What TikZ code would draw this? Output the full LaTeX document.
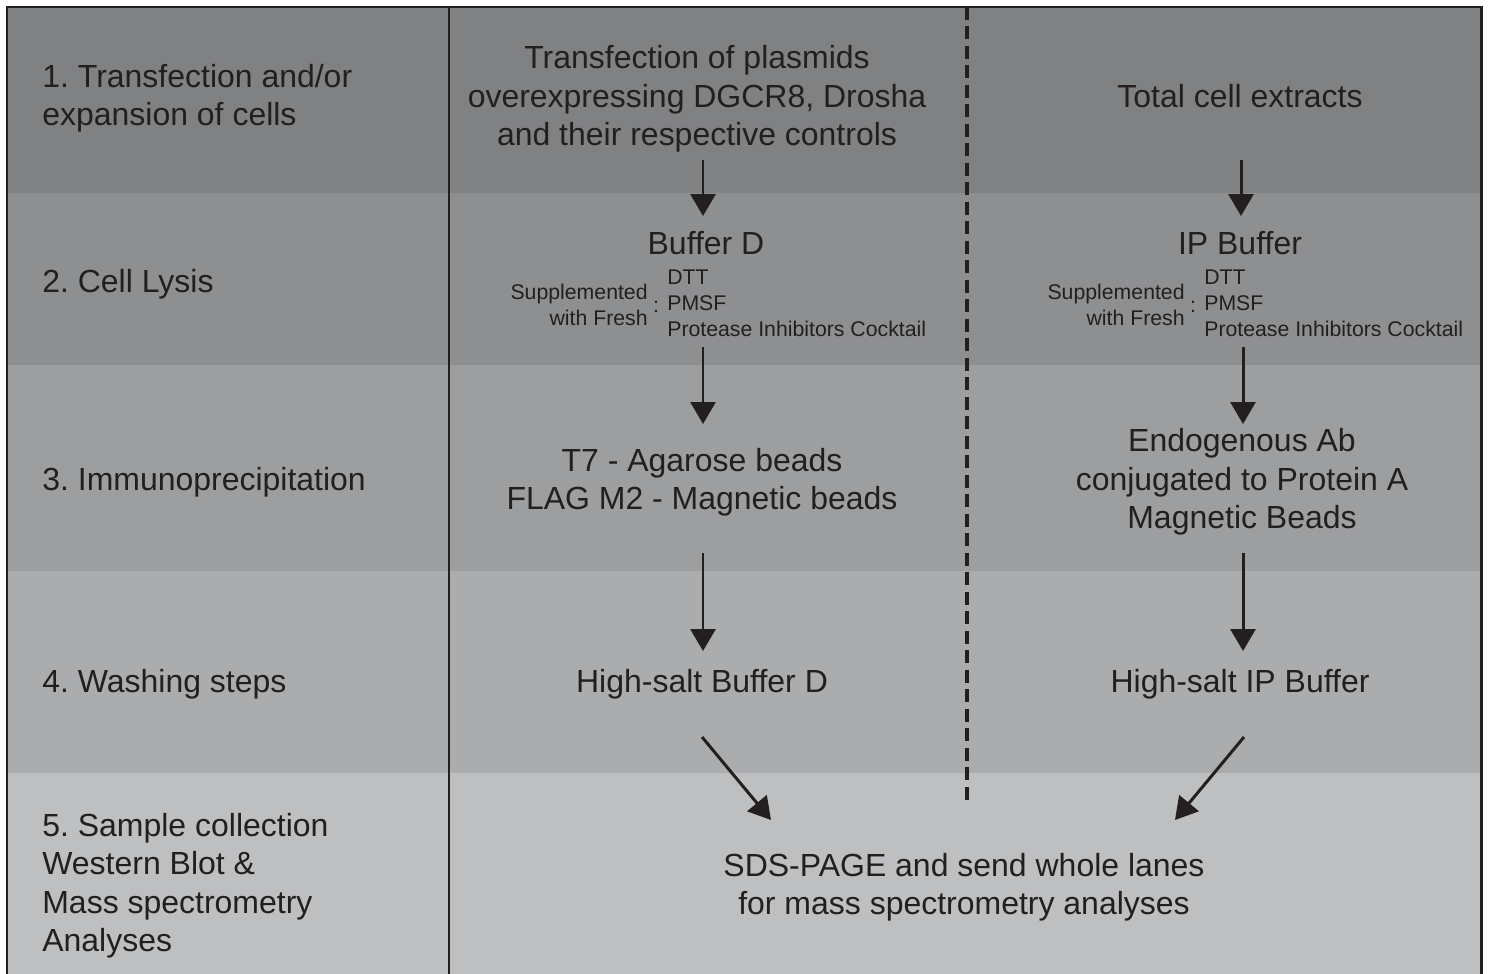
\documentclass[tikz,border=0pt]{standalone}
\usepackage{fontspec}
\setmainfont{Liberation Sans}
\frenchspacing
\usetikzlibrary{arrows.meta}

\definecolor{ink}{RGB}{35,31,32}
\definecolor{rowA}{RGB}{128,129,131}
\definecolor{rowB}{RGB}{142,143,145}
\definecolor{rowC}{RGB}{157,158,160}
\definecolor{rowD}{RGB}{171,172,174}
\definecolor{rowE}{RGB}{190,191,193}

\tikzset{
  big/.style   = {inner sep=0pt, text=ink, font=\fontsize{18.2}{21.9}\selectfont},
  small/.style = {inner sep=0pt, text=ink, font=\fontsize{12.1}{14.8}\selectfont},
  flow/.style  = {draw=ink, line width=1.7pt, -{Triangle[length=0.44cm, width=0.5cm]}},
}

\begin{document}
\begin{tikzpicture}[x=0.02cm, y=-0.02cm]
        \useasboundingbox (0,0) rectangle (1492,974);
        % row bands
        \fill[rowA] (7,7)   rectangle (1481,193);
        \fill[rowB] (7,193) rectangle (1481,365);
        \fill[rowC] (7,365) rectangle (1481,571);
        \fill[rowD] (7,571) rectangle (1481,773);
        \fill[rowE] (7,773) rectangle (1481,974);
        % frame
        \draw[ink, line width=1.7pt] (7,974) -- (7,7) -- (1481,7) -- (1481,974);
        \draw[ink, line width=1.7pt] (449,7) -- (449,974);
        \draw[ink, line width=2.8pt, dash pattern=on 0.26cm off 0.13cm] (967,7) -- (967,806);

        % step labels
        \node (step1) [big, anchor=west, align=left] at (42,98)    {1. Transfection and/or\\expansion of cells};
        \node (step2) [big, anchor=west]             at (42,284)   {2. Cell Lysis};
        \node (step3) [big, anchor=west]             at (42,482)   {3. Immunoprecipitation};
        \node (step4) [big, anchor=west]             at (42,684)   {4. Washing steps};
        \node (step5) [big, anchor=west, align=left] at (42,885.5) {5. Sample collection\\Western Blot \&\\Mass spectrometry\\Analyses};

        % overexpression column
        \node (transf) [big, align=center] at (697,99)  {Transfection of plasmids\\overexpressing DGCR8, Drosha\\and their respective controls};
        \node (bufD)   [big]               at (706,243) {Buffer D};
        \node (supD)   [small, anchor=east, align=right] at (648,305) {Supplemented\\with Fresh};
        \node (colD)   [small]             at (656,307) {:};
        \node (listD)  [small, anchor=west, align=left]  at (667,303) {DTT\\PMSF\\Protease Inhibitors Cocktail};
        \node (beadsD) [big, align=center] at (702,482) {T7 - Agarose beads\\FLAG M2 - Magnetic beads};
        \node (washD)  [big]               at (702,684) {High-salt Buffer D};

        % endogenous column
        \node (total)   [big]               at (1240,96)  {Total cell extracts};
        \node (ipbuf)   [big]               at (1240,243) {IP Buffer};
        \node (supIP)   [small, anchor=east, align=right] at (1185,305) {Supplemented\\with Fresh};
        \node (colIP)   [small]             at (1193,307) {:};
        \node (listIP)  [small, anchor=west, align=left]  at (1204,303) {DTT\\PMSF\\Protease Inhibitors Cocktail};
        \node (beadsIP) [big, align=center] at (1242,482) {Endogenous Ab\\conjugated to Protein A\\Magnetic Beads};
        \node (washIP)  [big]               at (1240,684) {High-salt IP Buffer};

        % common end
        \node (sds) [big, align=center] at (964,887) {SDS-PAGE and send whole lanes\\for mass spectrometry analyses};

        % arrow ends
        \coordinate (d1) at (703,160);  \coordinate (d2) at (703,216);
        \coordinate (d3) at (703,347);  \coordinate (d4) at (703,424);
        \coordinate (d5) at (703,553);  \coordinate (d6) at (703,651);
        \coordinate (d7) at (702,737);  \coordinate (e)  at (771,820);
        \coordinate (p1) at (1241,160); \coordinate (p2) at (1241,216);
        \coordinate (p3) at (1243,347); \coordinate (p4) at (1243,424);
        \coordinate (p5) at (1243,553); \coordinate (p6) at (1243,651);
        \coordinate (p7) at (1244,737); \coordinate (f)  at (1175,820);

        \draw[flow] (d1) -- (d2);
        \draw[flow] (d3) -- (d4);
        \draw[flow] (d5) -- (d6);
        \draw[flow] (d7) -- (e);
        \draw[flow] (p1) -- (p2);
        \draw[flow] (p3) -- (p4);
        \draw[flow] (p5) -- (p6);
        \draw[flow] (p7) -- (f);
      \end{tikzpicture}
\end{document}
